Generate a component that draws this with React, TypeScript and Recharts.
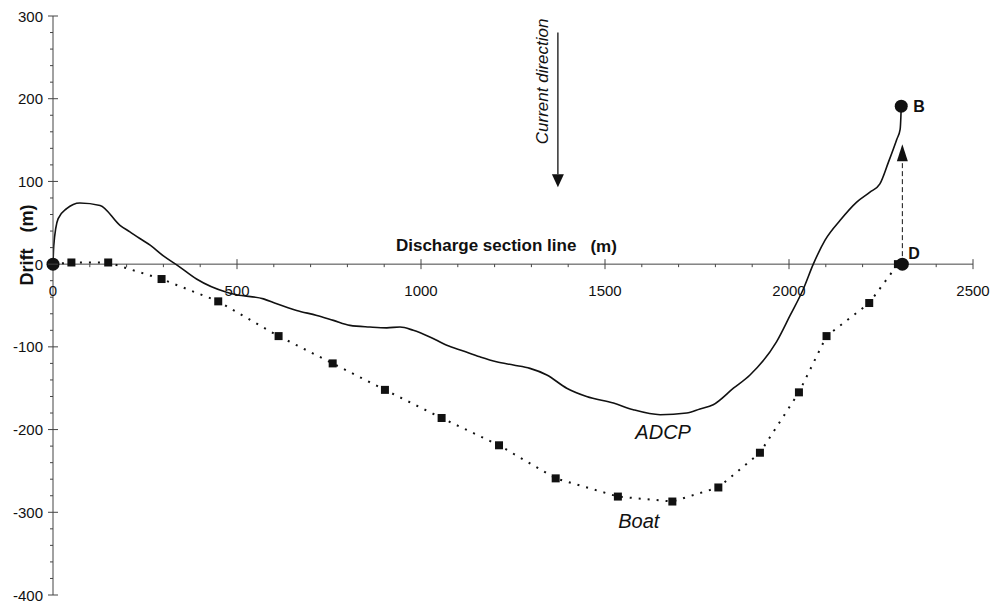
import { Line, LineChart, ReferenceDot, ReferenceLine, XAxis, YAxis } from "recharts";

const FONT = '"Liberation Sans", Arial, Helvetica, sans-serif';
const INK = "#111";
const AXIS = "#444";

// ADCP track (solid line)
const adcpX = [
	0, 2, 14, 37, 73, 128, 182, 209, 236, 264, 300, 340, 390, 472, 499, 572, 608,
	662, 717, 762, 807, 861, 907, 943, 979, 1024, 1070, 1115, 1160, 1205, 1251,
	1296, 1342, 1396, 1450, 1523, 1577, 1650, 1722, 1758, 1794, 1849, 1894, 1966,
	2003, 2039, 2066, 2098, 2139, 2184, 2220, 2247, 2270, 2293, 2302, 2304, 2305,
];
const adcpY = [
	0, 22, 55, 67, 74, 71, 47, 39, 31, 23, 10, -2, -18, -34, -37, -42, -48, -56,
	-62, -68, -74, -76, -77, -76, -80, -88, -98, -105, -112, -118, -122, -126,
	-134, -150, -160, -168, -176, -182, -180, -175, -170, -150, -134, -94, -62,
	-30, 0, 29, 53, 75, 87, 97, 123, 151, 163, 178, 191,
];

// Boat track (dotted line with square markers)
const boatX = [
	0, 50, 150, 295, 449, 613, 760, 902, 1056, 1212, 1366, 1535, 1683, 1808, 1921,
	2027, 2102, 2218, 2296,
];
const boatY = [
	0, 2, 2, -18, -45, -87, -120, -152, -186, -219, -259, -281, -287, -270, -228,
	-155, -87, -47, 0,
];

const xMajorTicks = [0, 500, 1000, 1500, 2000, 2500];
const yMajorTicks = [-400, -300, -200, -100, 0, 100, 200, 300];
const xMinorStep = 100;
const yMinorStep = 20;

const pointB = { x: 2305, y: 191 };
const pointD = { x: 2308, y: 0 };
const driftArrow = { x: 2308, from: 0, to: 145 };
const currentArrow = { x: 1372, from: 280, to: 93 };

const adcpData = adcpX.map((x, i) => ({ x, y: adcpY[i] }));
const boatData = boatX.map((x, i) => ({ x, y: boatY[i] }));

function subdivide(major: number[], step: number) {
	const out: number[] = [];
	for (let v = major[0]; v <= major[major.length - 1]; v += step) out.push(v);
	return out;
}
const xTicks = subdivide(xMajorTicks, xMinorStep);
const yTicks = subdivide(yMajorTicks, yMinorStep);

function YTick(props: any) {
	const { x, y, payload } = props;
	const v = payload.value as number;
	const major = yMajorTicks.includes(v);
	return (
		<g>
			{major ? (
				<line x1={x - 5} x2={x + 5} y1={y} y2={y} stroke={AXIS} />
			) : (
				<line x1={x - 3} x2={x} y1={y} y2={y} stroke={AXIS} />
			)}
			{major && (
				<text
					x={x - 10}
					y={y}
					textAnchor="end"
					dominantBaseline="central"
					fontSize={15}
					fontFamily={FONT}
					fill={INK}
				>
					{v}
				</text>
			)}
		</g>
	);
}

function xTickShape(v: number) {
	return (p: any) => {
		const { cx, cy } = p;
		const major = xMajorTicks.includes(v);
		return (
			<g>
				{major ? (
					<line x1={cx} x2={cx} y1={cy - 5} y2={cy + 5} stroke={AXIS} />
				) : (
					<line x1={cx} x2={cx} y1={cy} y2={cy + 3} stroke={AXIS} />
				)}
				{major && (
					<text
						x={cx}
						y={cy + 26}
						textAnchor="middle"
						dominantBaseline="central"
						fontSize={15}
						fontFamily={FONT}
						fill={INK}
					>
						{v}
					</text>
				)}
			</g>
		);
	};
}

function arrowShape(dashed: boolean, headLen: number, headHalf: number) {
	return (p: any) => {
		const { x1, y1, x2, y2 } = p;
		const dir = y2 > y1 ? 1 : -1;
		const baseY = y2 - dir * headLen;
		return (
			<g>
				<line
					x1={x1}
					y1={y1}
					x2={x2}
					y2={baseY}
					stroke={INK}
					strokeWidth={dashed ? 1 : 1.3}
					strokeDasharray={dashed ? "5 3" : undefined}
				/>
				<polygon
					points={`${x2},${y2} ${x2 - headHalf},${baseY} ${x2 + headHalf},${baseY}`}
					fill={INK}
				/>
			</g>
		);
	};
}

function textShape(
	label: string,
	opts: { size: number; italic?: boolean; bold?: boolean; rotate?: boolean; tail?: string },
) {
	return (p: any) => {
		const { cx, cy } = p;
		return (
			<text
				x={cx}
				y={cy}
				textAnchor="middle"
				dominantBaseline="central"
				fontSize={opts.size}
				fontFamily={FONT}
				fontStyle={opts.italic ? "italic" : "normal"}
				fontWeight={opts.bold ? "bold" : "normal"}
				fill={INK}
				transform={opts.rotate ? `rotate(-90, ${cx}, ${cy})` : undefined}
			>
				{label}
				{opts.tail && <tspan dx={14}>{opts.tail}</tspan>}
			</text>
		);
	};
}

function labeledDot(letter: string, dx: number, dy: number) {
	return (p: any) => {
		const { cx, cy } = p;
		return (
			<g>
				<circle cx={cx} cy={cy} r={6.5} fill={INK} />
				{letter && (
					<text
						x={cx + dx}
						y={cy + dy}
						fontSize={16}
						fontWeight="bold"
						fontFamily={FONT}
						fill={INK}
					>
						{letter}
					</text>
				)}
			</g>
		);
	};
}

function BoatMarker(props: any) {
	const { cx, cy, index } = props;
	if (index === 0) return <g key={`b${index}`} />;
	return (
		<rect key={`b${index}`} x={cx - 4} y={cy - 4} width={8} height={8} fill={INK} />
	);
}

function DriftLabel(p: any) {
	const vb = p.viewBox;
	const cx = vb.x + 27;
	const cy = vb.y + 229;
	return (
		<text
			x={cx}
			y={cy}
			textAnchor="middle"
			dominantBaseline="central"
			fontSize={18}
			fontWeight="bold"
			fontFamily={FONT}
			fill={INK}
			transform={`rotate(-90, ${cx}, ${cy})`}
		>
			Drift
			<tspan dx={16}>(m)</tspan>
		</text>
	);
}

export default function App() {
	return (
		<div
			style={{
				position: "absolute",
				left: 0,
				top: 0,
				width: 998,
				height: 602,
				background: "#fff",
			}}
		>
			<LineChart
				width={998}
				height={602}
				margin={{ top: 16, right: 25, bottom: 7, left: 0 }}
			>
				<XAxis
					dataKey="x"
					type="number"
					domain={[0, 2500]}
					allowDataOverflow
					hide
				/>
				<YAxis
					dataKey="y"
					type="number"
					domain={[-400, 300]}
					ticks={yTicks}
					interval={0}
					width={53}
					tickSize={0}
					tickMargin={0}
					tickLine={false}
					axisLine={{ stroke: AXIS }}
					tick={YTick}
					label={{ content: DriftLabel }}
				/>
				<ReferenceLine y={0} stroke={AXIS} />
				{xTicks.map((v) => (
					<ReferenceDot
						key={`xt${v}`}
						x={v}
						y={0}
						r={0}
						ifOverflow="visible"
						shape={xTickShape(v)}
					/>
				))}
				<Line
					data={adcpData}
					dataKey="y"
					type="monotone"
					stroke={INK}
					strokeWidth={1.6}
					dot={false}
					isAnimationActive={false}
				/>
				<Line
					data={boatData}
					dataKey="y"
					type="linear"
					stroke={INK}
					strokeWidth={2}
					strokeDasharray="2 7"
					dot={BoatMarker}
					activeDot={false}
					isAnimationActive={false}
				/>
				<ReferenceLine
					segment={[
						{ x: currentArrow.x, y: currentArrow.from },
						{ x: currentArrow.x, y: currentArrow.to },
					]}
					shape={arrowShape(false, 13, 6)}
				/>
				<ReferenceLine
					segment={[
						{ x: driftArrow.x, y: driftArrow.from },
						{ x: driftArrow.x, y: driftArrow.to },
					]}
					shape={arrowShape(true, 17, 5.5)}
				/>
				<ReferenceDot x={0} y={0} r={0} ifOverflow="visible" shape={labeledDot("", 0, 0)} />
				<ReferenceDot
					x={pointD.x}
					y={pointD.y}
					r={0}
					ifOverflow="visible"
					shape={labeledDot("D", 6, -5)}
				/>
				<ReferenceDot
					x={pointB.x}
					y={pointB.y}
					r={0}
					ifOverflow="visible"
					shape={labeledDot("B", 12, 6)}
				/>
				<ReferenceDot
					x={1329}
					y={221}
					r={0}
					ifOverflow="visible"
					shape={textShape("Current direction", { size: 17, italic: true, rotate: true })}
				/>
				<ReferenceDot
					x={1232}
					y={22}
					r={0}
					ifOverflow="visible"
					shape={textShape("Discharge section line", { size: 17, bold: true, tail: "(m)" })}
				/>
				<ReferenceDot
					x={1658}
					y={-203}
					r={0}
					ifOverflow="visible"
					shape={textShape("ADCP", { size: 20, italic: true })}
				/>
				<ReferenceDot
					x={1592}
					y={-310}
					r={0}
					ifOverflow="visible"
					shape={textShape("Boat", { size: 20, italic: true })}
				/>
			</LineChart>
		</div>
	);
}
